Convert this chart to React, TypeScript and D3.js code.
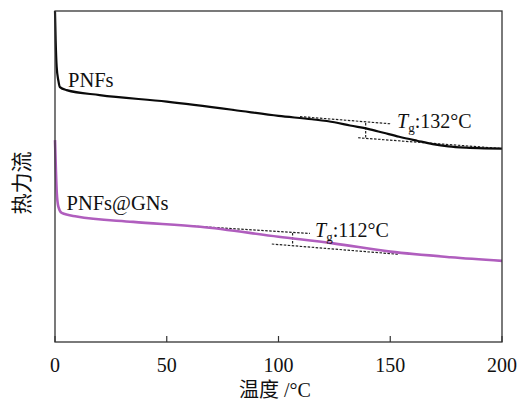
import React from 'react';
import * as d3 from 'd3';

// temperature (°C) and relative heat flow (arbitrary units, 0-100)
const pnfsT = [0, 0.3, 0.75, 1.5, 2.2, 5.2, 20, 50, 80, 100, 115, 125, 132, 140, 147, 154, 162, 169, 176, 184, 192, 200];
const pnfsH = [100, 91, 83.1, 79, 77, 76.1, 74.6, 72.6, 70.1, 68.3, 67.3, 66.4, 65.4, 64.4, 63.2, 62.0, 60.8, 59.8, 59.1, 58.7, 58.5, 58.4];

const gnsT = [0, 0.4, 0.8, 1.5, 3, 9.7, 35, 65, 100, 124.5, 150, 177, 200];
const gnsH = [61, 52, 45, 40.9, 39.0, 37.9, 36.3, 34.8, 31.8, 29.8, 27.3, 25.6, 24.5];

// tangent (dashed) construction lines: [t1, h1, t2, h2]
const pnfsTangents = [
  [109.6, 68.1, 150.6, 65.9],
  [135.6, 61.7, 199, 58.5],
  [139, 66.2, 139, 61.6],
];
const gnsTangents = [
  [61.9, 35.0, 114.1, 32.8],
  [97, 29.6, 153.6, 26.5],
  [106.3, 32.9, 106.3, 29.6],
];

const xTicks = [0, 50, 100, 150, 200];

const W = 527;
const H = 402;
const margin = { top: 11, right: 25, bottom: 60, left: 55 };
const FONT = '"Liberation Serif", "Times New Roman", "Noto Sans CJK SC", serif';

export default function App() {
  const iw = W - margin.left - margin.right;
  const ih = H - margin.top - margin.bottom;
  const x = d3.scaleLinear().domain([0, 200]).range([0, iw]);
  const y = d3.scaleLinear().domain([0, 100]).range([ih, 0]);

  const path = (ts: number[], hs: number[]) =>
    d3
      .line<number>()
      .x((t) => x(t))
      .y((_, i) => y(hs[i]))
      .curve(d3.curveMonotoneX)(ts) || '';

  const dashes = (segs: number[][]) =>
    segs.map((s, i) => (
      <line
        key={i}
        x1={x(s[0])}
        y1={y(s[1])}
        x2={x(s[2])}
        y2={y(s[3])}
        stroke="#222"
        strokeWidth={1.2}
        strokeDasharray="2.5,1.5"
      />
    ));

  return (
    <svg width={W} height={H} style={{ position: 'absolute', left: 0, top: 0, background: '#fff' }}>
      <g transform={`translate(${margin.left},${margin.top})`}>
        {dashes(pnfsTangents)}
        {dashes(gnsTangents)}
        <path d={path(pnfsT, pnfsH)} fill="none" stroke="#0a0a0a" strokeWidth={2.2} />
        <path d={path(gnsT, gnsH)} fill="none" stroke="#b05ebe" strokeWidth={2.6} />

        <rect x={0} y={0} width={iw} height={ih} fill="none" stroke="#333" strokeWidth={1.3} />
        {xTicks.map((t) => (
          <g key={t} transform={`translate(${x(t)},${ih})`}>
            <line y2={-6} stroke="#333" strokeWidth={1.2} />
            <text y={30} textAnchor="middle" fontFamily={FONT} fontSize={20} fill="#111">
              {t}
            </text>
          </g>
        ))}

        <text x={13} y={76} fontFamily={FONT} fontSize={20.5} fill="#111">PNFs</text>
        <text x={11.5} y={199} fontFamily={FONT} fontSize={20.5} fill="#111">PNFs@GNs</text>

        <text x={342} y={117} fontFamily={FONT} fontSize={20} fill="#111">
          <tspan fontStyle="italic">T</tspan>
          <tspan fontSize={13} dy={4}>g</tspan>
          <tspan dy={-4}>:132°C</tspan>
        </text>
        <text x={260} y={226} fontFamily={FONT} fontSize={20} fill="#111">
          <tspan fontStyle="italic">T</tspan>
          <tspan fontSize={13} dy={4}>g</tspan>
          <tspan dy={-4}>:112°C</tspan>
        </text>
      </g>

      <text x={275} y={397} textAnchor="middle" fontFamily={FONT} fontSize={20} fill="#111">
        温度 /°C
      </text>
      <text
        transform="translate(29,183) rotate(-90)"
        textAnchor="middle"
        fontFamily={FONT}
        fontSize={21}
        fill="#111"
      >
        热力流
      </text>
    </svg>
  );
}
